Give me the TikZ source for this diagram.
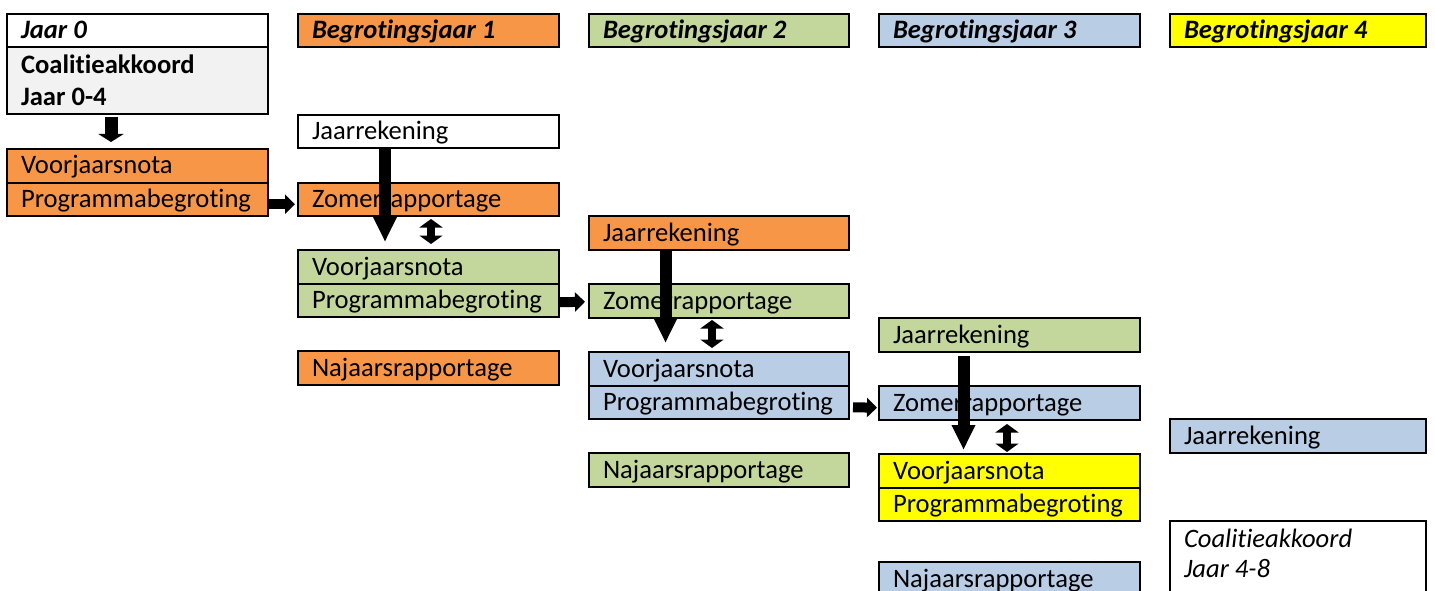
\documentclass[tikz,border=0pt]{standalone}
\usepackage{fontspec}
\setmainfont[Ligatures={NoCommon}]{Carlito}
\usetikzlibrary{arrows.meta}
\definecolor{corange}{HTML}{F79646}
\definecolor{cgreen}{HTML}{C3D69B}
\definecolor{cblue}{HTML}{B9CDE5}
\definecolor{cyellow}{HTML}{FFFF00}
\definecolor{cgray}{HTML}{F2F2F2}
\newcommand{\twolines}[3]{\noindent\vbox{\baselineskip=#3\lineskiplimit=-100pt\hbox{#1}\hbox{#2}}}
\begin{document}
\begin{tikzpicture}[x=1pt,y=-1pt,
  box/.style={draw=black, line width=2pt, anchor=north west, inner xsep=14pt, inner ysep=0pt,
    text height=25pt, text depth=8.5pt, align=flush left, text width=233pt,
    font=\fontsize{26.6}{31}\selectfont},
  narrow/.style={text width=228pt},
  hdr/.style={box, font=\fontsize{26.6}{31}\selectfont\bfseries\itshape},
  fo/.style={fill=corange}, fg/.style={fill=cgreen}, fb/.style={fill=cblue},
  fy/.style={fill=cyellow}, fw/.style={fill=white},
  bigarrow/.style={line width=12pt, -{Triangle[width=22pt,length=25pt]}},
  dblarrow/.style={line width=8pt, {Triangle[width=23pt,length=8.5pt]}-{Triangle[width=23pt,length=8.5pt]}},
  smallarrow/.style={line width=10pt, -{Triangle[width=19pt,length=10pt]}},
  downarrow/.style={line width=13pt, -{Triangle[width=25pt,length=8pt]}}
]
\useasboundingbox (0,0) rectangle (1435,591);
\clip (0,0) rectangle (1435,591);
% column 0
\node[hdr, fw] (hdr0) at (6,13) {Jaar 0};
\node[box, fill=cgray, text height=58.2pt, text depth=8.8pt, font=\fontsize{26.6}{31}\selectfont\bfseries] (coal0) at (6,46) {\twolines{Coalitieakkoord}{Jaar 0-4}{31.5pt}};
\node[box, fo] (voor0) at (6,148) {Voorjaarsnota};
\node[box, fo] (prog0) at (6,181.5) {Programmabegroting};
% column 1
\node[hdr, fo] (hdr1) at (297,13) {Begrotingsjaar 1};
\node[box, fw] (jaar1) at (297,114) {Jaarrekening};
\node[box, fo] (zom1) at (297,181.5) {Zomerrapportage};
\node[box, fg] (voor1) at (297,249) {Voorjaarsnota};
\node[box, fg] (prog1) at (297,282.5) {Programmabegroting};
\node[box, fo] (naj1) at (297,350) {Najaarsrapportage};
% column 2
\node[hdr, fg, text width=232pt] (hdr2) at (588,13) {Begrotingsjaar 2};
\node[box, fo, text width=232pt] (jaar2) at (588,215) {Jaarrekening};
\node[box, fg, text width=232pt] (zom2) at (588,283) {Zomerrapportage};
\node[box, fb, text width=232pt] (voor2) at (588,351) {Voorjaarsnota};
\node[box, fb, text width=232pt] (prog2) at (588,384.5) {Programmabegroting};
\node[box, fg, text width=232pt] (naj2) at (588,452) {Najaarsrapportage};
% column 3
\node[hdr, fb] (hdr3) at (878,13) {Begrotingsjaar 3};
\node[box, fg] (jaar3) at (878,317) {Jaarrekening};
\node[box, fb] (zom3) at (878,385) {Zomerrapportage};
\node[box, fy] (voor3) at (878,453) {Voorjaarsnota};
\node[box, fy] (prog3) at (878,486.5) {Programmabegroting};
\node[box, fb] (naj3) at (878,561) {Najaarsrapportage};
% column 4
\node[hdr, fy, narrow] (hdr4) at (1169,13) {Begrotingsjaar 4};
\node[box, fb, narrow] (jaar4) at (1169,418) {Jaarrekening};
\node[box, fw, narrow, text height=56.7pt, text depth=23.3pt, font=\fontsize{26.6}{31}\selectfont\itshape] (coal4) at (1169,520) {\twolines{Coalitieakkoord}{Jaar 4-8}{30pt}};
% arrows
\draw[downarrow] ([xshift=-26.5pt,yshift=-2pt]coal0.south) -- ([xshift=-26.5pt,yshift=6pt]voor0.north);
\draw[smallarrow] ([yshift=-5pt]prog0.east) -- ([xshift=-2pt,yshift=-5pt]zom1.west);
\draw[smallarrow] ([yshift=-2pt]prog1.east) -- ([xshift=-3pt,yshift=-1pt]zom2.west);
\draw[smallarrow] ([xshift=3pt,yshift=-5pt]prog2.east) -- ([xshift=-1pt,yshift=-5pt]zom3.west);
\draw[bigarrow] ([xshift=-43.5pt]jaar1.south) -- ([xshift=-43.5pt,yshift=7pt]voor1.north);
\draw[bigarrow] ([xshift=-53.5pt]jaar2.south) -- ([xshift=-53.5pt,yshift=8pt]voor2.north);
\draw[bigarrow] ([xshift=-46pt,yshift=-3.5pt]jaar3.south) -- ([xshift=-46pt,yshift=3pt]voor3.north);
\draw[dblarrow] ([xshift=2.5pt,yshift=-2pt]zom1.south) -- ([xshift=2.5pt,yshift=5pt]voor1.north);
\draw[dblarrow] ([xshift=-7pt,yshift=-1.5pt]zom2.south) -- ([xshift=-7pt,yshift=3pt]voor2.north);
\draw[dblarrow] ([xshift=-2.5pt,yshift=-3.5pt]zom3.south) -- ([xshift=-2.5pt,yshift=1pt]voor3.north);
\end{tikzpicture}
\end{document}
